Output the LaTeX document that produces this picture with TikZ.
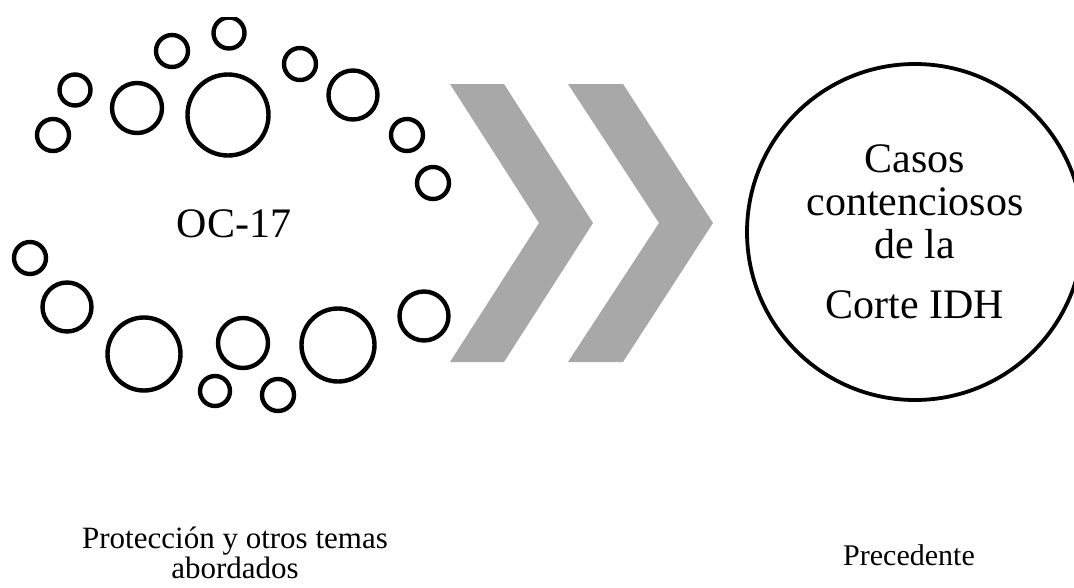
\documentclass[tikz,border=0pt]{standalone}
\usepackage{fontspec}
\setmainfont{Liberation Serif}
\definecolor{chevgray}{HTML}{A8A8A8}
\begin{document}
\begin{tikzpicture}[x=1pt,y=-1pt,
  ring/.style={circle,draw=black,line width=4.4pt,inner sep=0pt,outer sep=0pt,minimum size=#1},
  bigring/.style={circle,draw=black,line width=3.8pt,inner sep=0pt,minimum size=336pt,
    align=center,font=\fontsize{42}{43}\selectfont},
  chev/.style={fill=chevgray,draw=none},
  label/.style={align=center,inner sep=0pt}]
\useasboundingbox (0,0) rectangle (1074,587);
\clip (0,17) rectangle (1074,587);

% upper arc of small rings
\node[ring=32pt] (u1) at (53,135) {};
\node[ring=31pt] (u2) at (75,90) {};
\node[ring=50pt] (u3) at (137,108) {};
\node[ring=81pt] (u4) at (228,115) {};
\node[ring=32pt] (u5) at (172,51) {};
\node[ring=31pt] (u6) at (229,33) {};
\node[ring=32pt] (u7) at (300,64) {};
\node[ring=49pt] (u8) at (353,95) {};
\node[ring=32pt] (u9) at (407,135) {};
\node[ring=32pt] (u10) at (433,183) {};

% lower arc of small rings
\node[ring=32pt] (l1) at (30,258) {};
\node[ring=49pt] (l2) at (67,307) {};
\node[ring=73pt] (l3) at (144,354) {};
\node[ring=50pt] (l4) at (243,343) {};
\node[ring=30pt] (l5) at (215,391) {};
\node[ring=32pt] (l6) at (278,395) {};
\node[ring=73pt] (l7) at (338,345) {};
\node[ring=49pt] (l8) at (424,316) {};

% central label
\node[label,anchor=base,font=\fontsize{42}{43}\selectfont] (oc) at (234,237) {OC-17};

% chevrons
\fill[chev] (450,84) -- (504,84) -- (593,223) -- (504,362) -- (450,362) -- (539,223) -- cycle;
\fill[chev] (568,84) -- (623,84) -- (713,223) -- (623,362) -- (568,362) -- (659,223) -- cycle;

% target circle
\node[bigring] (casos) at (915,232) {Casos\\contenciosos\\de la\\[17pt]Corte IDH};

% captions
\node[label,font=\fontsize{31}{30}\selectfont] (prot) at (235,553)
  {Protección y otros temas\\abordados};
\node[label,anchor=base,font=\fontsize{30}{30}\selectfont] (prec) at (909,565) {Precedente};
\end{tikzpicture}
\end{document}
